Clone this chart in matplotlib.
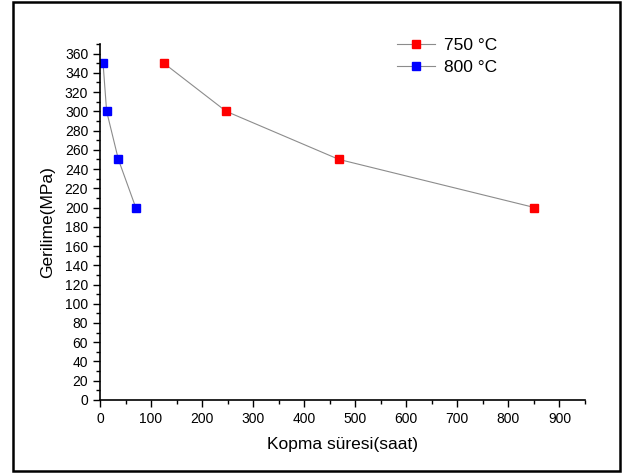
import matplotlib
matplotlib.use("Agg")
import matplotlib.pyplot as plt
from matplotlib.patches import Rectangle
from matplotlib.ticker import MultipleLocator

plt.rcParams['font.family'] = ['Liberation Sans', 'DejaVu Sans']

# Creep rupture data
stress = [350, 300, 250, 200]
time_750 = [125, 247, 468, 851]
time_800 = [6, 13, 36, 70]

fig = plt.figure(figsize=(6.23, 4.76), dpi=100)
ax = fig.add_axes([0.1605, 0.1597, 0.7785, 0.748])

ax.plot(time_750, stress, color='#8c8c8c', lw=0.8, marker='s', ms=5.5,
        mfc='#ff0000', mec='#ff0000', label='750 °C')
ax.plot(time_800, stress, color='#8c8c8c', lw=0.8, marker='s', ms=5.5,
        mfc='#0000ff', mec='#0000ff', label='800 °C')

ax.set_xlim(0, 950)
ax.set_ylim(0, 370)
ax.xaxis.set_major_locator(MultipleLocator(100))
ax.xaxis.set_minor_locator(MultipleLocator(50))
ax.yaxis.set_major_locator(MultipleLocator(20))
ax.yaxis.set_minor_locator(MultipleLocator(10))
ax.set_xticks(range(0, 901, 100))
ax.tick_params(which='major', direction='out', length=5, width=1, labelsize=10)
ax.tick_params(which='minor', direction='out', length=3, width=1)
ax.spines['top'].set_visible(False)
ax.spines['right'].set_visible(False)
for s in ('left', 'bottom'):
    ax.spines[s].set_linewidth(1.2)

ax.set_xlabel('Kopma süresi(saat)', fontsize=12.5, labelpad=8)
ax.set_ylabel('Gerilime(MPa)', fontsize=12.5, labelpad=7)

ax.legend(loc='upper left', bbox_to_anchor=(0.58, 1.06), frameon=False,
          fontsize=12.5, handlelength=2.2, handletextpad=0.5, labelspacing=0.35)

# outer frame around the whole picture
fig.patches.append(Rectangle((13 / 623, 5 / 476), 607 / 623, 469 / 476,
                             transform=fig.transFigure, fill=False,
                             ec='black', lw=1.8))

fig.savefig("out.png", dpi=100)
